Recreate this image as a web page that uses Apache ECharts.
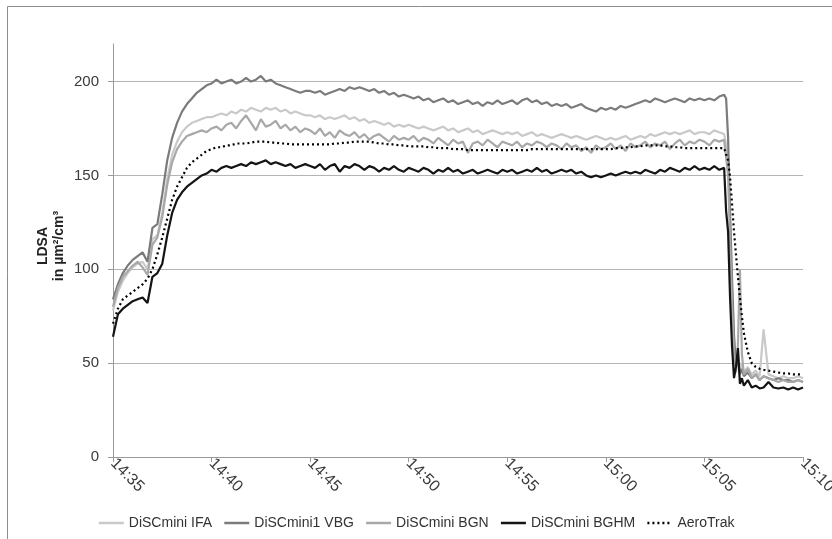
<!DOCTYPE html>
<html>
<head>
<meta charset="utf-8">
<script src="https://cdn.jsdelivr.net/npm/echarts@6/dist/echarts.min.js"></script>
<style>
html,body{margin:0;padding:0;background:#fff;}
#chart{width:832px;height:539px;}
</style>
</head>
<body>
<div id="chart"></div>
<script>
// minutes after 14:35
var times = [
 0,0.25,0.5,0.75,1,1.25,1.5,1.75,2,2.25,2.5,2.75,3,3.25,3.5,3.75,4,4.25,4.5,4.75,
 5,5.25,5.5,5.75,6,6.25,6.5,6.75,7,7.25,7.5,7.75,8,8.25,8.5,8.75,9,9.25,9.5,9.75,
 10,10.25,10.5,10.75,11,11.25,11.5,11.75,12,12.25,12.5,12.75,13,13.25,13.5,13.75,14,14.25,14.5,14.75,
 15,15.25,15.5,15.75,16,16.25,16.5,16.75,17,17.25,17.5,17.75,18,18.25,18.5,18.75,19,19.25,19.5,19.75,
 20,20.25,20.5,20.75,21,21.25,21.5,21.75,22,22.25,22.5,22.75,23,23.25,23.5,23.75,24,24.25,24.5,24.75,
 25,25.25,25.5,25.75,26,26.25,26.5,26.75,27,27.25,27.5,27.75,28,28.25,28.5,28.75,29,29.25,29.5,29.75,
 30,30.25,30.5,30.75,31,
 31.1,31.2,31.3,31.4,31.5,31.6,31.7,31.8,31.9,32,32.2,32.4,32.6,32.8,33,33.25,33.5,33.75,34,34.25,34.5,34.75,35
];
var xTickLabels = ['14:35','14:40','14:45','14:50','14:55','15:00','15:05','15:10'];
var yTickValues = [0, 50, 100, 150, 200];

var seriesNames = ['DiSCmini IFA','DiSCmini1 VBG','DiSCmini BGN','DiSCmini BGHM','AeroTrak'];

var ifa = [
 78,88,94,98,101,103,104,100,116,118,130,148,161,168,173,176,178,179,180,181,
 181,182,183,182,184,183,185,184,186,185,184,186,185,186,184,185,183,184,183,182,
 182,181,182,180,181,180,181,182,180,181,179,180,178,179,178,177,178,176,177,176,
 177,176,175,176,175,174,175,176,174,175,173,174,175,173,174,172,173,174,173,172,
 173,172,173,171,172,173,171,172,171,170,171,172,171,170,171,170,169,170,171,170,
 169,170,169,170,171,169,170,171,170,172,171,172,173,172,173,172,173,174,172,173,
 173,172,174,173,172,
 173,160,125,90,62,50,55,47,50,45,48,44,46,43,68,44,43,42,43,42,42,43,42
];
var vbg = [
 84,92,98,102,105,107,109,104,122,124,140,158,170,178,184,188,191,194,196,198,
 199,201,199,200,201,199,200,202,200,201,203,200,201,199,198,197,196,195,194,195,
 195,194,195,193,194,195,196,195,197,196,197,196,195,196,194,195,193,194,192,193,
 192,191,192,190,191,189,190,191,189,190,188,189,190,188,189,187,189,188,190,188,
 189,190,188,190,191,189,190,188,189,187,188,187,188,186,187,188,186,185,184,186,
 185,186,185,187,186,187,188,189,190,189,191,190,189,190,191,190,189,191,190,191,
 190,191,190,192,193,
 191,170,130,95,65,48,52,44,47,43,45,42,44,41,43,42,41,42,41,41,40,41,40
];
var bgn = [
 80,90,96,99,102,104,101,97,113,117,128,145,157,164,168,171,172,173,174,173,
 175,176,174,177,178,175,179,182,178,174,180,176,177,179,175,177,174,176,173,175,
 174,172,175,171,173,170,174,172,171,173,170,172,169,171,172,170,168,171,169,170,
 169,171,168,170,169,167,170,168,166,169,167,168,162,167,168,166,169,167,165,168,
 167,166,168,165,167,166,168,167,165,167,166,164,167,165,166,163,165,162,166,164,
 165,167,164,166,163,167,165,166,168,165,167,166,168,164,167,169,166,168,167,169,
 168,166,169,168,169,
 168,150,115,80,55,45,60,100,55,44,47,42,44,41,43,42,41,40,41,40,40,41,40
];
var bghm = [
 64,76,79,81,83,84,85,82,96,98,103,118,130,137,141,144,146,148,150,151,
 153,152,154,155,154,155,156,155,157,156,157,158,156,157,156,155,156,154,155,156,
 155,154,156,153,155,156,152,155,154,156,155,153,155,154,152,154,153,155,153,152,
 154,153,152,154,153,151,153,152,154,152,153,151,152,153,151,152,153,152,151,153,
 152,153,151,152,153,152,154,152,153,151,152,153,152,153,151,152,150,149,150,149,
 150,151,150,151,152,151,152,151,153,152,151,153,152,154,153,152,154,153,155,153,
 154,153,155,153,154,
 131,120,85,59,42,48,58,39,42,38,41,37,38,36.5,37,40,37,36.5,37,36,37,36,37
];
var aero = [
 71,79,84,86,88,90,92,95,100,108,117,127,137,144,149,154,157,159,161,163,
 164,165,165,166,166,167,167,167,167.5,168,168,168,167.5,167.5,167,167,166.5,166.5,166.5,166.5,
 166.5,166.5,166.5,166.5,166.5,167,167,167.5,167.5,168,168,168,168,167.5,167,167,166.5,166.5,166,166,
 165.5,165.5,165.5,165.5,165,165,164.5,164.5,164.5,164,164,164,163.5,163.5,163.5,163.5,163.5,163.5,163.5,163.5,
 163.5,163.5,163.5,163.5,163.5,164,164,164,164,164,164,164,164,164,164,164,164,164,164,164,
 164,164,164.5,164.5,165,165,165.5,165.5,166,166,166,166,165.5,165.5,165,165,164.5,164.5,164.5,164.5,
 164.5,164.5,164.5,164.5,164.5,
 164,158,149,135,120,108,96,85,75,66,56,50,48,47,46.5,46,45.5,45,44.5,44.5,44,44,44
];

function pairs(vals){ return times.map(function(t,i){ return [t, vals[i]]; }); }

var colors = ['#c9c9c9','#7b7b7b','#a8a8a8','#141414','#000000'];
var dataSets = [ifa, vbg, bgn, bghm, aero];

var series = dataSets.map(function(d, i){
  return {
    name: seriesNames[i],
    type: 'line',
    data: pairs(d),
    symbol: 'none',
    showSymbol: false,
    smooth: false,
    lineStyle: {
      color: colors[i],
      width: 2.2,
      type: i === 4 ? [2, 3] : 'solid'
    },
    itemStyle: { color: colors[i] }
  };
});

var chart = echarts.init(document.getElementById('chart'), null, {renderer: 'canvas'});
chart.setOption({
  animation: false,
  backgroundColor: '#ffffff',
  grid: { left: 113, right: 29, top: 44, bottom: 82, containLabel: false, outerBoundsMode: 'none' },
  legend: {
    data: seriesNames,
    left: 'center',
    top: 511,
    itemWidth: 25,
    itemHeight: 10,
    itemGap: 11,
    itemStyle: { opacity: 0 },
    lineStyle: { width: 2.5 },
    textStyle: { fontFamily: 'Liberation Sans, Arial, sans-serif', fontSize: 14, color: '#333' }
  },
  xAxis: {
    type: 'value',
    min: 0,
    max: 35,
    interval: 5,
    axisLine: { show: true, lineStyle: { color: '#9a9a9a', width: 1 } },
    axisTick: { show: true, length: 5, lineStyle: { color: '#9a9a9a' } },
    splitLine: { show: false },
    axisLabel: {
      rotate: -45,
      margin: 4,
      fontFamily: 'Liberation Sans, Arial, sans-serif',
      fontSize: 16,
      color: '#3a3a3a',
      formatter: function(v){ return xTickLabels[Math.round(v/5)] || ''; }
    }
  },
  yAxis: {
    type: 'value',
    min: 0,
    max: 220,
    interval: 50,
    axisLine: { show: true, lineStyle: { color: '#9a9a9a', width: 1 } },
    axisTick: { show: true, length: 5, lineStyle: { color: '#9a9a9a' } },
    splitLine: { show: true, showMaxLine: false, lineStyle: { color: '#b4b4b4', width: 1 } },
    axisLabel: {
      showMaxLabel: false,
      margin: 14,
      fontFamily: 'Liberation Sans, Arial, sans-serif',
      fontSize: 15,
      color: '#3a3a3a',
      formatter: function(v){ return yTickValues.indexOf(v) >= 0 ? String(v) : ''; }
    }
  },
  graphic: [
    {
      type: 'rect',
      shape: { x: 7.5, y: 6.5, width: 900, height: 700 },
      style: { fill: 'none', stroke: '#8c8c8c', lineWidth: 1 },
      silent: true
    },
    {
      type: 'text',
      x: 51,
      y: 246,
      rotation: Math.PI / 2,
      style: {
        text: 'LDSA\nin µm²/cm³',
        font: 'bold 14px "Liberation Sans", Arial, sans-serif',
        fill: '#222',
        textAlign: 'center',
        textVerticalAlign: 'middle',
        lineHeight: 16
      },
      silent: true
    }
  ],
  series: series
});
</script>
</body>
</html>
